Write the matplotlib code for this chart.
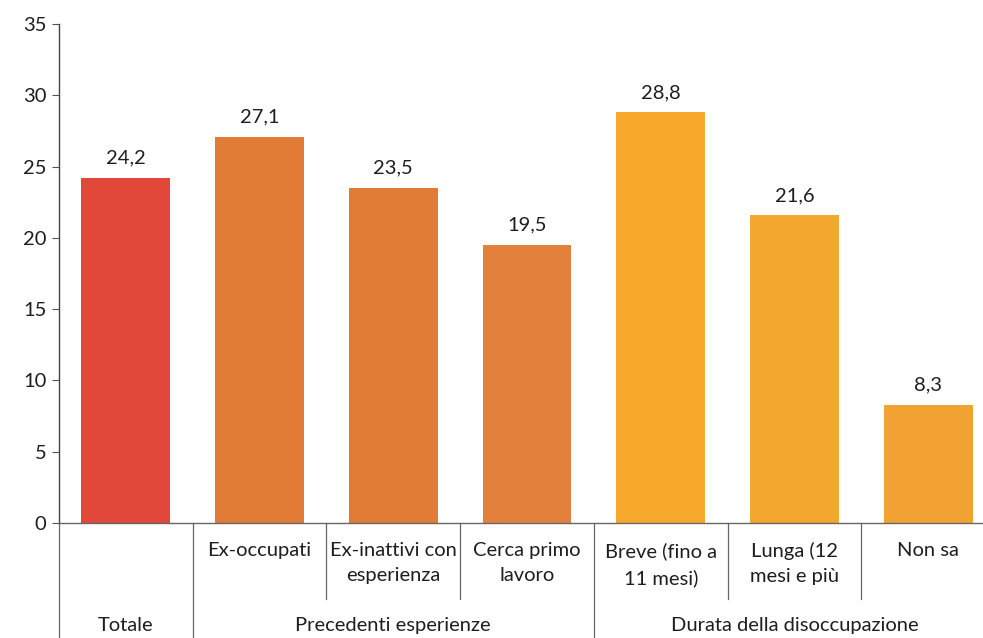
import matplotlib
matplotlib.use("Agg")
import matplotlib.pyplot as plt
import matplotlib.transforms as mtransforms

plt.rcParams['font.family'] = ['Lato', 'DejaVu Sans']

categories = ["", "Ex-occupati", "Ex-inattivi con\nesperienza", "Cerca primo\nlavoro",
              "Breve (fino a\n11 mesi)", "Lunga (12\nmesi e più", "Non sa"]
values = [24.2, 27.1, 23.5, 19.5, 28.8, 21.6, 8.3]
value_labels = ["24,2", "27,1", "23,5", "19,5", "28,8", "21,6", "8,3"]
colors = ["#E2483A", "#E27B35", "#E27B35", "#E3803C", "#F5A82A", "#F4A72E", "#F2A232"]
groups = ["Totale", "Precedenti esperienze", "Durata della disoccupazione"]
group_spans = [(0, 0), (1, 3), (4, 6)]
yticks = [0, 5, 10, 15, 20, 25, 30, 35]

FS = 14.5
TXT = "#1e1e1e"

fig = plt.figure(figsize=(9.83, 6.38), dpi=100)
ax = fig.add_axes([0.060, 0.1803, 0.940, 0.7821])

x = list(range(len(values)))
ax.bar(x, values, width=0.665, color=colors, zorder=2)
for xi, v, lab in zip(x, values, value_labels):
    ax.annotate(lab, (xi, v), xytext=(0, 8), textcoords="offset points",
                ha="center", va="bottom", fontsize=FS, color=TXT)

ax.set_xlim(-0.5, 6.41)
ax.set_ylim(0, 35)
ax.set_yticks(yticks)
ax.set_yticklabels([str(t) for t in yticks], fontsize=FS, color=TXT)
ax.tick_params(axis="y", direction="out", length=5, width=0.8, color="#555555", pad=4)
ax.set_xticks([])
for s in ["top", "right"]:
    ax.spines[s].set_visible(False)
ax.spines["left"].set_color("#444444")
ax.spines["bottom"].set_color("#666666")
ax.spines["left"].set_linewidth(1.0)
ax.spines["bottom"].set_linewidth(1.0)

trans = mtransforms.blended_transform_factory(ax.transData, ax.transAxes)

# category labels (first row)
for xi, cat in zip(x, categories):
    if cat:
        ax.text(xi, -0.038, cat, transform=trans, ha="center", va="top",
                fontsize=FS, color=TXT, linespacing=1.6)

# separators between categories and groups
short_bottom = -0.152
full_bottom = -0.235
group_edges = {-0.5, 0.5, 3.5}
for b in [-0.5, 0.5, 1.5, 2.5, 3.5, 4.5, 5.5]:
    bottom = full_bottom if b in group_edges else short_bottom
    ax.plot([b, b], [0, bottom], transform=trans, color="#666666",
            lw=0.9, clip_on=False)

# group labels (second row)
for g, (a, b) in zip(groups, group_spans):
    ax.text((a + b) / 2, -0.206, g, transform=trans, ha="center", va="center",
            fontsize=FS, color=TXT)

fig.savefig("out.png", dpi=100)
